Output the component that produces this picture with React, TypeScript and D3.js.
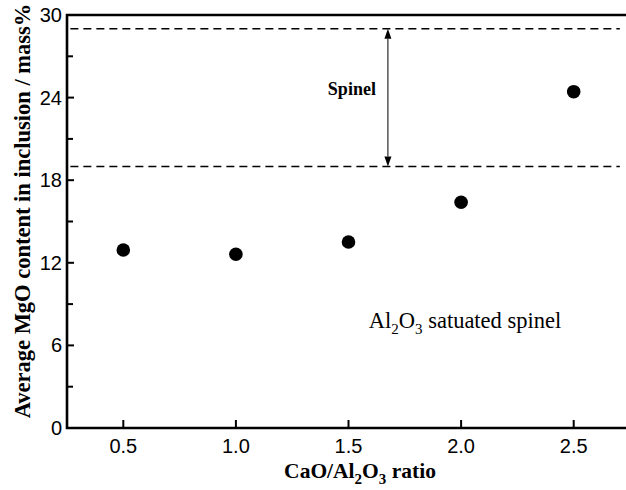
import React from "react";
import * as d3 from "d3";

const ratios = [0.5, 1.0, 1.5, 2.0, 2.5];
const mgoContent = [12.93, 12.62, 13.51, 16.4, 24.43];
const yMajorTicks = [0, 6, 12, 18, 24, 30];
const yMinorTicks = [3, 9, 15, 21, 27];
const xTicks = [0.5, 1.0, 1.5, 2.0, 2.5];
const xTickLabels = ["0.5", "1.0", "1.5", "2.0", "2.5"];
const spinelBounds = [19, 29];
const dashExtent = [0.265, 2.705];
const arrowX = 1.675;
const spinelLabelPos = [1.515, 24.2];
const satLabelPos = [1.59, 7.26];

const W = 626;
const H = 490;
const left = 67;
const right = 630;
const top = 15;
const bottom = 428;

export default function App() {
  const x = d3.scaleLinear().domain([0.25, 2.75]).range([left, right]);
  const y = d3.scaleLinear().domain([0, 30]).range([bottom, top]);
  const serif = "'Liberation Serif', 'Times New Roman', serif";
  const sans = "'Liberation Sans', Arial, sans-serif";
  const ax = x(arrowX);
  const yTop = y(spinelBounds[1]);
  const yBot = y(spinelBounds[0]);
  const head = 10;
  const hw = 3.5;

  return (
    <svg
      width={W}
      height={H}
      style={{ position: "absolute", left: 0, top: 0, background: "#fff" }}
    >
      <rect x={0} y={0} width={W} height={H} fill="#fff" />
      {spinelBounds.map((v) => (
        <line
          key={"d" + v}
          x1={x(dashExtent[0])}
          x2={x(dashExtent[1])}
          y1={y(v)}
          y2={y(v)}
          stroke="#000"
          strokeWidth={1.5}
          strokeDasharray="8 5"
        />
      ))}
      <line x1={ax} x2={ax} y1={yTop + head} y2={yBot - head} stroke="#000" strokeWidth={1} />
      <path d={`M${ax},${yTop} L${ax - hw},${yTop + head} L${ax + hw},${yTop + head} Z`} fill="#000" />
      <path d={`M${ax},${yBot} L${ax - hw},${yBot - head} L${ax + hw},${yBot - head} Z`} fill="#000" />
      <text
        x={x(spinelLabelPos[0])}
        y={y(spinelLabelPos[1])}
        fontFamily={serif}
        fontWeight="bold"
        fontSize={18}
        textAnchor="middle"
      >
        Spinel
      </text>
      <text x={x(satLabelPos[0])} y={y(satLabelPos[1])} fontFamily={serif} fontSize={22.5}>
        Al<tspan fontSize={15} dy={6}>2</tspan>
        <tspan dy={-6}>O</tspan>
        <tspan fontSize={15} dy={6}>3</tspan>
        <tspan dy={-6}> satuated spinel</tspan>
      </text>
      {ratios.map((r, i) => (
        <circle key={"p" + i} cx={x(r)} cy={y(mgoContent[i])} r={6.8} fill="#000" />
      ))}
      <path
        d={`M${right},${top} L${left},${top} L${left},${bottom} L${right},${bottom}`}
        fill="none"
        stroke="#000"
        strokeWidth={2.6}
      />
      {yMajorTicks.map((t) => (
        <g key={"ym" + t}>
          {t !== 0 && t !== 30 && (
            <line x1={left} x2={left + 7} y1={y(t)} y2={y(t)} stroke="#000" strokeWidth={2} />
          )}
          <text x={62} y={y(t)} dy="0.35em" textAnchor="end" fontFamily={sans} fontSize={20}>
            {t}
          </text>
        </g>
      ))}
      {yMinorTicks.map((t) => (
        <line key={"yn" + t} x1={left} x2={left + 6} y1={y(t)} y2={y(t)} stroke="#000" strokeWidth={2} />
      ))}
      {xTicks.map((t, i) => (
        <g key={"x" + t}>
          <line x1={x(t)} x2={x(t)} y1={bottom} y2={bottom - 8} stroke="#000" strokeWidth={2} />
          <text x={x(t)} y={453} textAnchor="middle" fontFamily={sans} fontSize={20}>
            {xTickLabels[i]}
          </text>
        </g>
      ))}
      <text x={360} y={478} textAnchor="middle" fontFamily={serif} fontWeight="bold" fontSize={21.5}>
        CaO/Al<tspan fontSize={15} dy={6}>2</tspan>
        <tspan dy={-6}>O</tspan>
        <tspan fontSize={15} dy={6}>3</tspan>
        <tspan dy={-6}> ratio</tspan>
      </text>
      <text
        transform="translate(30,211) rotate(-90)"
        textAnchor="middle"
        fontFamily={serif}
        fontWeight="bold"
        fontSize={22.5}
      >
        Average MgO content in inclusion / mass%
      </text>
    </svg>
  );
}
